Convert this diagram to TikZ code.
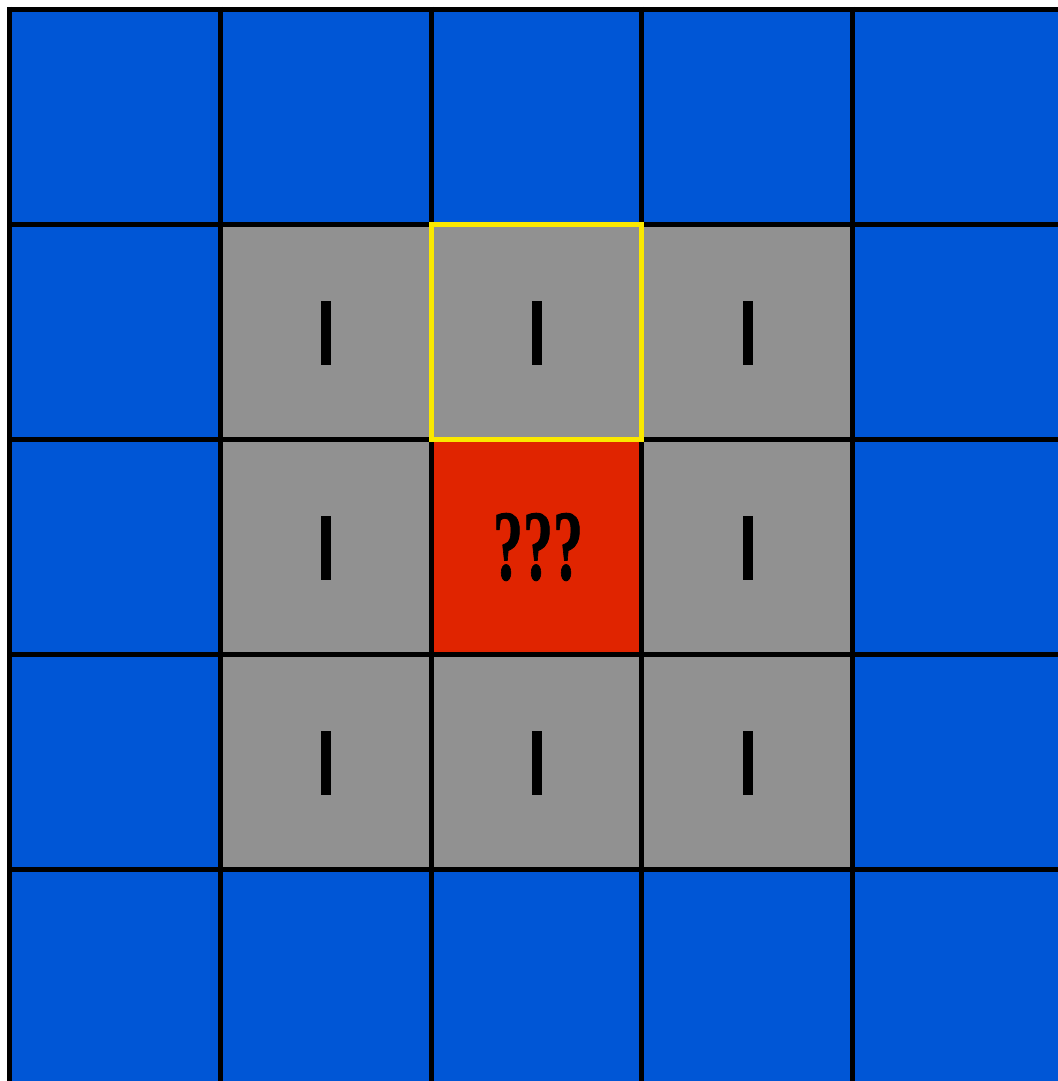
\documentclass[tikz,border=0pt]{standalone}
\usepackage{fontspec}
\usepackage{graphicx}
\newfontfamily\labelfont[FakeBold=1.5]{Liberation Sans}
\newfontfamily\qfont[FakeBold=1]{Liberation Serif}
\definecolor{cellblue}{RGB}{0,86,214}
\definecolor{cellgray}{RGB}{145,145,145}
\definecolor{cellred}{RGB}{224,36,0}
\definecolor{hiyellow}{RGB}{250,232,0}
\tikzset{
  gridline/.style={draw=black,line width=2.5pt},
  hilite/.style={draw=hiyellow,line width=2.5pt},
  ilabel/.style={inner sep=0pt,font=\labelfont\fontsize{45.5}{46}\selectfont},
  qlabel/.style={inner sep=0pt,font=\qfont\bfseries\fontsize{50}{50}\selectfont}
}
\begin{document}
\begin{tikzpicture}[x=0.5pt,y=-0.5pt]
\useasboundingbox (0,0) rectangle (1058,1081);
\clip (0,0) rectangle (1058,1081);
% backgrounds
\fill[white] (0,0) rectangle (1058,1081);
\fill[cellblue] (9.5,9.5) rectangle (1070,1090);
\fill[cellgray] (220.25,224.5) rectangle (852.5,869.5);
\fill[cellred] (431,439.5) rectangle (641.75,654.5);
% grid lines
\foreach \x in {9.5,220.25,431,641.75,852.5}
  \draw[gridline] (\x,7) -- (\x,1090);
\foreach \y in {9.5,224.5,439.5,654.5,869.5}
  \draw[gridline] (7,\y) -- (1070,\y);
% highlighted cell
\draw[hilite] (431,224.5) rectangle (641.75,439.5);
% labels
\node[ilabel] (c11) at (326,333) {I};
\node[ilabel] (c12) at (537,333) {I};
\node[ilabel] (c13) at (748,333) {I};
\node[ilabel] (c21) at (326,548) {I};
\node[qlabel] (c22) at (538,547) {\scalebox{0.6}[1]{???}};
\node[ilabel] (c23) at (748,548) {I};
\node[ilabel] (c31) at (326,763) {I};
\node[ilabel] (c32) at (537,763) {I};
\node[ilabel] (c33) at (748,763) {I};
\end{tikzpicture}
\end{document}
